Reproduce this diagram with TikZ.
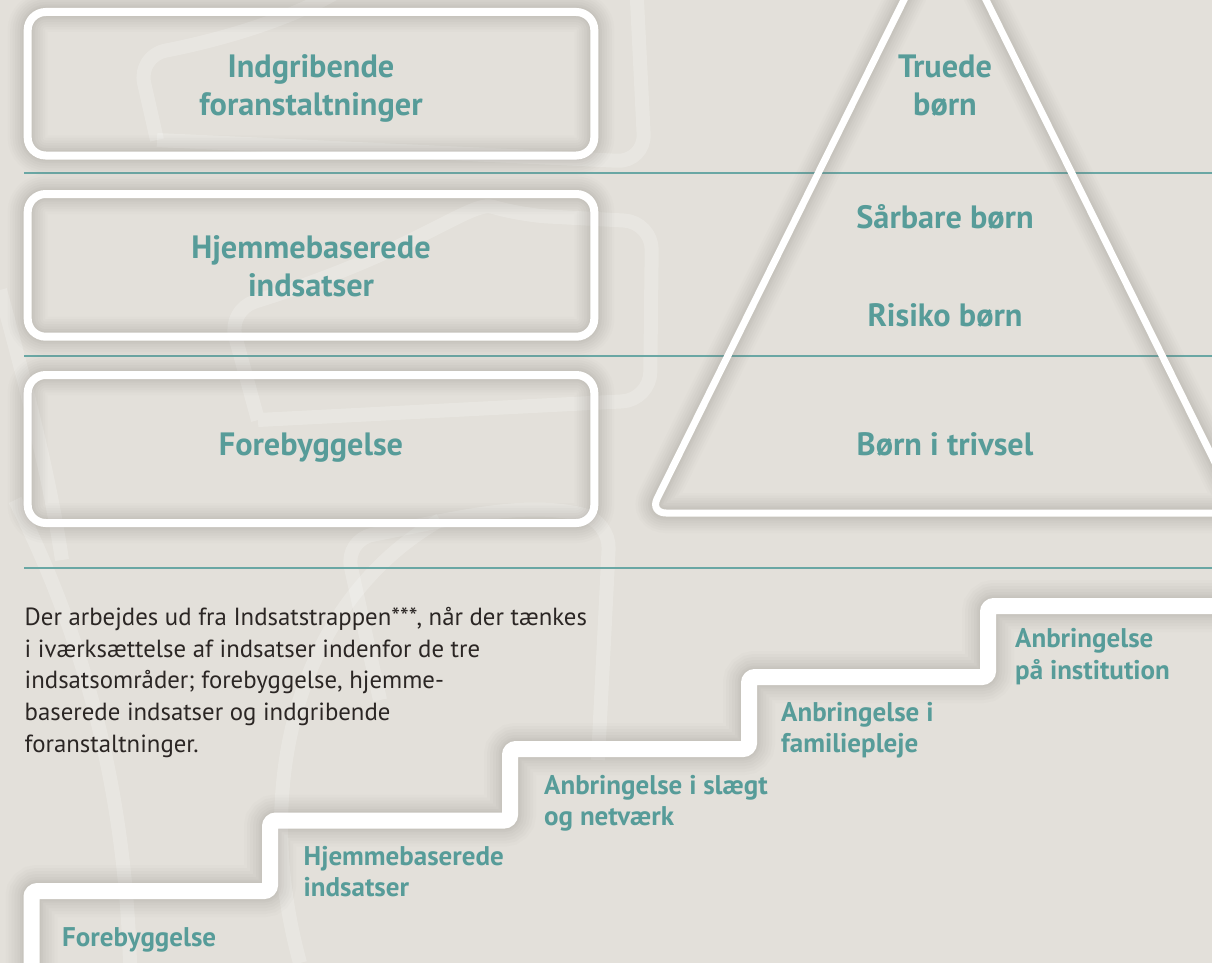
\documentclass[tikz,border=0pt]{standalone}
\usepackage{fontspec}
\setmainfont{PT Sans}
\definecolor{bg}{HTML}{E3E0DA}
\definecolor{tealtxt}{HTML}{579C99}
\definecolor{tline}{HTML}{6AA7A4}
\definecolor{ptext}{HTML}{2B2624}
\definecolor{shd}{HTML}{7E7A73}
\tikzset{
  halothin/.style={preaction={draw=shd,line width=40pt,opacity=0.025},
                   preaction={draw=shd,line width=35pt,opacity=0.03},
                   preaction={draw=shd,line width=30pt,opacity=0.035},
                   preaction={draw=shd,line width=25pt,opacity=0.04},
                   preaction={draw=shd,line width=20pt,opacity=0.045},
                   preaction={draw=shd,line width=15pt,opacity=0.05},
                   preaction={draw=shd,line width=11pt,opacity=0.05}},
  halothick/.style={preaction={draw=shd,line width=52pt,opacity=0.025},
                    preaction={draw=shd,line width=46pt,opacity=0.03},
                    preaction={draw=shd,line width=40pt,opacity=0.035},
                    preaction={draw=shd,line width=34pt,opacity=0.04},
                    preaction={draw=shd,line width=28pt,opacity=0.045},
                    preaction={draw=shd,line width=23pt,opacity=0.05},
                    preaction={draw=shd,line width=19pt,opacity=0.05}},
  whitebox/.style={halothin,draw=white,line width=8pt,rounded corners=18pt},
  tri/.style={halothin,draw=white,line width=7pt,rounded corners=16pt},
  stair/.style={halothick,draw=white,line width=16pt,rounded corners=6pt},
  sep/.style={draw=tline,line width=1.8pt},
  wm/.style={draw=white,opacity=0.2,line width=14pt,rounded corners=28pt},
  lbl/.style={text=tealtxt,font=\fontsize{32.3}{37.5}\selectfont\bfseries,align=center,inner sep=0pt,anchor=base},
  slbl/.style={text=tealtxt,font=\fontsize{27}{31.5}\selectfont\bfseries,align=left,inner sep=0pt,anchor=base west},
  para/.style={text=ptext,font=\fontsize{24.8}{31.9}\selectfont,align=left,inner sep=0pt,anchor=base west}
}
\begin{document}
\begin{tikzpicture}[x=1pt,y=-1pt]
\fill[bg] (0,0) rectangle (1212,963);
\useasboundingbox (0,0) rectangle (1212,963);
\clip (0,0) rectangle (1212,963);
% faint watermark
\draw[wm] (157,140) -- (138,56) .. controls (220,40) and (290,20) .. (340,-10);
\draw[wm] (157,140) -- (645,162) -- (636,-20);
\draw[wm] (258,420) -- (228,310) .. controls (420,250) and (470,200) .. (520,215) -- (652,222) -- (650,400) -- (258,420);
\draw[wm] (380,700) -- (345,540) .. controls (450,520) and (520,500) .. (610,521) -- (598,760);
\draw[wm] (0,290) .. controls (30,400) and (50,480) .. (62,560);
\draw[wm] (15,500) .. controls (90,650) and (125,800) .. (130,963);
\draw[wm] (440,520) .. controls (300,600) and (250,780) .. (300,963);
% separator lines
\draw[sep] (24,173.3) -- (1212,173.3);
\draw[sep] (24,356) -- (1212,356);
\draw[sep] (24,568) -- (1212,568);
% boxes
\draw[whitebox] (27.7,12) rectangle (594.3,155.5);
\draw[whitebox] (27.7,194) rectangle (594.3,336.7);
\draw[whitebox] (27.7,375) rectangle (594.3,523);
% pyramid
\draw[tri] (945,-83) -- (1240,513) -- (650,513) -- cycle;
% staircase
\draw[stair] (31.5,990) -- (31.5,891) -- (270,891) -- (270,820.5) -- (510,820.5) -- (510,749) -- (749,749) -- (749,677) -- (988,677) -- (988,606) -- (1240,606);
% box labels (base = last line)
\node[lbl] (b1) at (311,115.5) {Indgribende\\foranstaltninger};
\node[lbl] (b2) at (311,296) {Hjemmebaserede\\indsatser};
\node[lbl] (b3) at (311,455) {Forebyggelse};
% pyramid labels
\node[lbl] (p1) at (945,115.5) {Truede\\børn};
\node[lbl] (p2) at (945,228) {Sårbare børn};
\node[lbl] (p3) at (945,326) {Risiko børn};
\node[lbl] (p4) at (945,455) {Børn i trivsel};
% paragraph
\node[para] (txt) at (24.5,752.7) {Der arbejdes ud fra Indsatstrappen***, når der tænkes\\i iværksættelse af indsatser indenfor de tre\\indsatsområder; forebyggelse, hjemme-\\baserede indsatser og indgribende\\foranstaltninger.};
% stair labels
\node[slbl] (s1) at (62,946) {Forebyggelse};
\node[slbl] (s2) at (303.5,896.7) {Hjemmebaserede\\indsatser};
\node[slbl] (s3) at (544,825.5) {Anbringelse i slægt\\og netværk};
\node[slbl] (s4) at (781,752.7) {Anbringelse i\\familiepleje};
\node[slbl] (s5) at (1015,679) {Anbringelse\\på institution};
\end{tikzpicture}
\end{document}
